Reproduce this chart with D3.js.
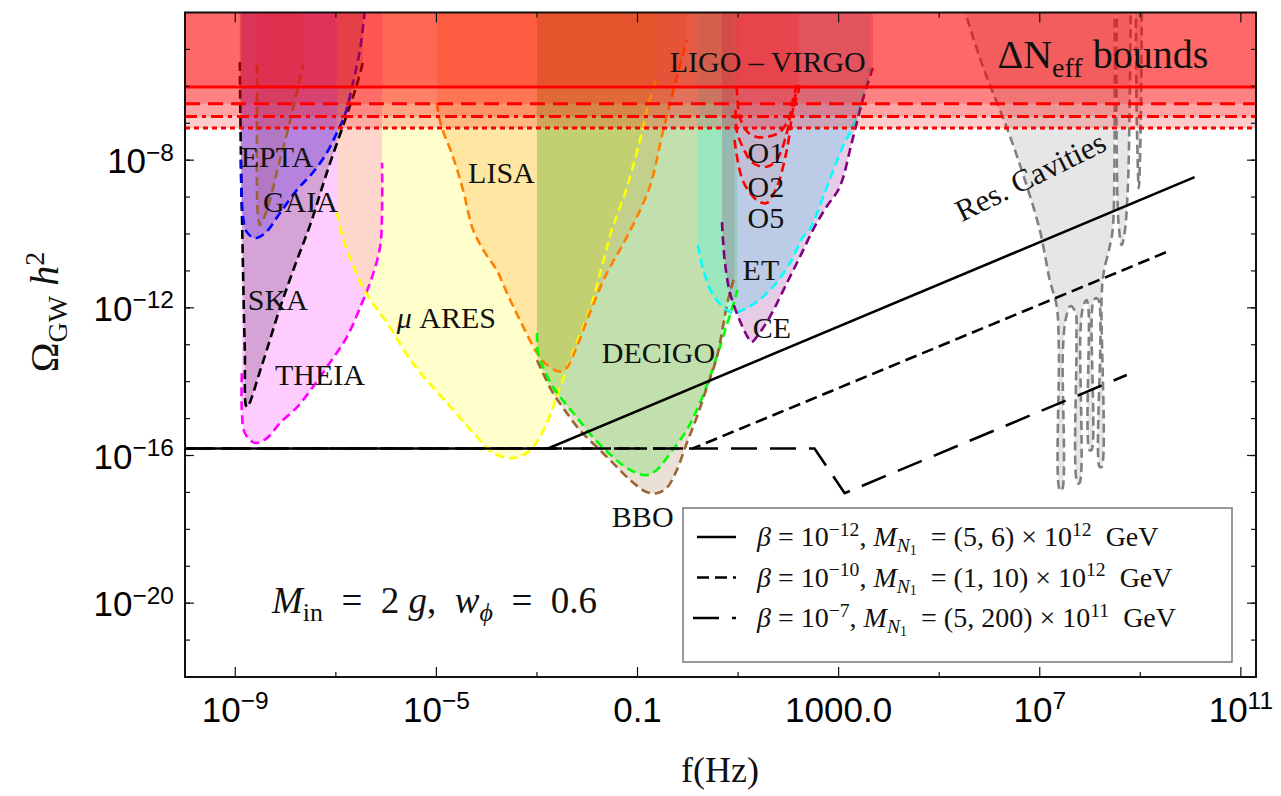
<!DOCTYPE html>
<html>
<head>
<meta charset="utf-8">
<script src="https://cdn.jsdelivr.net/npm/d3@7"></script>
<style>
  body { margin: 0; background: #fff; }
  svg text { font-family: "Liberation Serif", "Times New Roman", serif; white-space: pre; }
  .tick-label { font-family: "Liberation Sans", Arial, sans-serif; }
</style>
</head>
<body>
<svg id="chart" width="1281" height="796"></svg>
<script>
// ---------------------------------------------------------------
// Sensitivity curves: [log10 f/Hz, log10 Omega_GW h^2]
// ---------------------------------------------------------------
const ska = [[-8.91,-5.34],[-8.89,-7.72],[-8.85,-10.71],[-8.81,-13.15],[-8.77,-14.69],[-8.47,-13.55],[-8.11,-12.0],[-7.81,-10.84],[-7.51,-9.75],[-7.16,-8.26],[-6.78,-6.77],[-6.60,-6.04],[-6.46,-5.34]];
const epta = [[-8.89,-7.99],[-8.85,-9.49],[-8.77,-9.95],[-8.61,-10.11],[-8.41,-9.98],[-8.11,-9.43],[-7.77,-8.80],[-7.46,-8.34],[-7.18,-7.80],[-6.98,-7.26],[-6.82,-6.77],[-6.66,-5.91],[-6.52,-5.01],[-6.42,-3.9]];
const gaia = [[-8.57,-5.42],[-8.57,-7.26],[-8.57,-8.73],[-8.55,-9.48],[-8.51,-9.76],[-8.43,-9.57],[-8.31,-9.08],[-8.15,-8.19],[-7.97,-7.26],[-7.81,-6.37],[-7.65,-5.42]];
const theia = [[-8.87,-13.77],[-8.87,-14.77],[-8.81,-15.39],[-8.61,-15.66],[-8.37,-15.53],[-8.11,-15.12],[-7.77,-14.69],[-7.46,-14.15],[-7.12,-13.49],[-6.78,-12.79],[-6.48,-11.87],[-6.28,-11.17],[-6.12,-10.35],[-6.08,-9.35],[-6.08,-8.07]];
const muAres = [[-6.98,-9.41],[-6.86,-10.11],[-6.62,-10.98],[-6.38,-11.65],[-5.98,-12.41],[-5.47,-13.50],[-4.79,-14.58],[-4.19,-15.50],[-3.88,-15.93],[-3.48,-16.07],[-3.20,-15.93],[-2.94,-15.50],[-2.68,-14.69],[-2.49,-13.96],[-2.21,-12.95],[-1.95,-12.06],[-1.69,-10.79],[-1.51,-9.89],[-1.21,-8.73],[-0.95,-7.45],[-0.76,-6.37],[-0.60,-5.74]];
const lisa = [[-4.99,-6.45],[-4.91,-7.04],[-4.67,-7.91],[-4.47,-8.81],[-4.27,-9.89],[-4.04,-10.49],[-3.80,-10.98],[-3.58,-11.65],[-3.34,-12.33],[-3.00,-13.22],[-2.80,-13.55],[-2.54,-13.73],[-2.41,-13.63],[-2.21,-13.06],[-1.95,-12.14],[-1.61,-11.06],[-1.21,-10.08],[-0.76,-8.73],[-0.50,-7.26],[-0.30,-6.18],[-0.02,-4.74]];
const decigo = [[-3.00,-12.68],[-2.98,-13.22],[-2.88,-13.60],[-2.68,-14.15],[-2.49,-14.50],[-2.21,-14.96],[-1.89,-15.50],[-1.49,-16.04],[-1.15,-16.39],[-0.82,-16.53],[-0.62,-16.39],[-0.30,-15.85],[-0.02,-15.31],[0.24,-14.58],[0.44,-13.88],[0.70,-12.79],[0.87,-12.06],[0.99,-11.52]];
const bbo = [[-3.00,-13.42],[-2.88,-13.77],[-2.68,-14.31],[-2.49,-14.69],[-2.15,-15.31],[-1.81,-15.77],[-1.49,-16.20],[-1.15,-16.66],[-0.82,-16.99],[-0.62,-17.02],[-0.42,-16.88],[-0.22,-16.40],[-0.02,-15.66],[0.18,-14.96],[0.38,-14.15],[0.58,-13.33],[0.80,-11.79],[0.93,-11.17]];
const et = [[0.20,-10.30],[0.30,-10.92],[0.48,-11.60],[0.70,-11.98],[0.89,-12.14],[1.09,-12.06],[1.37,-11.84],[1.69,-11.44],[2.03,-10.79],[2.29,-10.08],[2.43,-9.86],[2.76,-8.75],[3.08,-7.64],[3.28,-7.10],[3.46,-6.37],[3.62,-5.50]];
const ce = [[0.68,-9.68],[0.70,-10.16],[0.74,-10.79],[0.84,-11.60],[1.03,-12.33],[1.19,-12.79],[1.27,-12.93],[1.37,-12.79],[1.63,-12.25],[1.97,-11.33],[2.23,-10.62],[2.49,-9.89],[2.74,-9.30],[3.02,-8.73],[3.26,-7.53],[3.48,-6.37],[3.68,-5.50]];
const ligoO1 = [[0.97,-6.00],[0.99,-6.37],[1.03,-6.83],[1.19,-7.24],[1.37,-7.37],[1.57,-7.37],[1.83,-7.24],[2.03,-6.83],[2.17,-6.29],[2.23,-5.96]];
const ligoO2 = [[0.95,-6.64],[0.97,-7.18],[1.09,-7.64],[1.29,-8.07],[1.57,-8.18],[1.77,-7.99],[1.97,-7.26],[2.09,-6.37],[2.17,-5.96]];
const ligoO5 = [[0.93,-7.45],[1.09,-8.54],[1.37,-9.08],[1.57,-9.16],[1.77,-8.73],[1.97,-7.72],[2.09,-6.64],[2.17,-6.02]];
const cavityMain = [[5.47,-3.79],[5.87,-5.47],[6.34,-7.10],[6.66,-8.35],[7.00,-9.89],[7.20,-11.25],[7.34,-11.98],[7.38,-13.15],[7.40,-16.94],[7.44,-16.94],[7.46,-13.15],[7.52,-12.28],[7.61,-11.95],[7.71,-12.12],[7.73,-12.88],[7.75,-16.75],[7.79,-16.75],[7.81,-12.61],[7.87,-11.93],[7.93,-11.79],[7.97,-12.06],[7.99,-15.85],[8.03,-15.85],[8.05,-11.93],[8.11,-11.74],[8.17,-11.79],[8.19,-16.31],[8.23,-16.31],[8.23,-11.71],[8.27,-11.06],[8.39,-10.35],[8.45,-9.89],[8.49,-7.26],[8.49,-3.79]];
const cavityNarrowA = [[8.53,-3.79],[8.53,-7.72],[8.57,-9.76],[8.63,-10.30],[8.69,-9.95],[8.75,-8.81],[8.79,-6.37],[8.81,-3.79]];
const cavityNarrowB = [[8.91,-3.79],[8.93,-6.91],[8.97,-8.76],[9.01,-6.91],[9.03,-3.79]];

// Delta N_eff upper bounds (log10 Omega h^2)
const neffBounds = [-6.02, -6.47, -6.82, -7.13];

// GW spectra from PBH-induced leptogenesis scenarios [log10 f, log10 Omega h^2]
const gwBeta12 = [[-10, -15.81], [-2.78, -15.81], [10.08, -8.46]];
const gwBeta10 = [[-10, -15.81], [0.10, -15.81], [9.52, -10.49]];
const gwBeta7  = [[-10, -15.81], [2.52, -15.81], [3.12, -17.02], [8.73, -13.82]];

// Axis ticks
const xMajor = [1e-9, 1e-5, 0.1, 1000, 1e7, 1e11];
const xMajorLabels = [["10", "−9"], ["10", "−5"], ["0.1", ""], ["1000.0", ""], ["10", "7"], ["10", "11"]];
const xMinor = [1e-7, 1e-3, 10, 1e5, 1e9];
const yMajor = [1e-8, 1e-12, 1e-16, 1e-20];
const yMajorLabels = [["10", "−8"], ["10", "−12"], ["10", "−16"], ["10", "−20"]];
const yMinor = d3.range(-22, -3).map(e => Math.pow(10, e));

// Curve labels, anchored at [log10 f, log10 Omega] (left end of baseline)
const curveLabels = ["EPTA", "GAIA", "SKA", "THEIA", "DECIGO", "BBO", "LISA", "LIGO – VIRGO", "O1", "O2", "O5", "ET", "CE"];
const curveLabelAnchors = [[-8.89,-8.18],[-8.45,-9.40],[-8.75,-12.06],[-8.21,-14.09],[-1.71,-13.49],[-1.51,-17.94],[-4.37,-8.62],[-0.36,-5.61],[1.19,-8.08],[1.19,-9.00],[1.19,-9.84],[1.09,-11.25],[1.29,-12.82]];
const aresAnchor = [-5.79, -12.55];
const neffAnchor = [6.16, -5.50];
const cavityAnchor = [5.45, -9.68];
const paramAnchor = [-8.27, -20.27];

// ---------------------------------------------------------------
const svg = d3.select("#chart");
const X0 = 185, X1 = 1256, YB = 677, YT = 12.5;
const x = d3.scaleLog().domain([1e-10, 2e11]).range([X0, X1]);
const y = d3.scaleLog().domain([1e-22, 1e-4]).range([YB, YT]);
const fx = d => x(Math.pow(10, d[0]));
const fy = d => y(Math.pow(10, d[1]));

svg.append("defs").append("clipPath").attr("id", "plotArea")
  .append("rect").attr("x", X0).attr("y", YT).attr("width", X1 - X0).attr("height", YB - YT);

const plot = svg.append("g").attr("clip-path", "url(#plotArea)");

const smooth = d3.curveCatmullRom.alpha(0.5);
const areaTop = d3.area().x(fx).y0(YT - 5).y1(fy).curve(smooth);
const curveLine = d3.line().x(fx).y(fy).curve(smooth);

const detectors = [
  { pts: ska, color: "#000000", shade: 0.2 },
  { pts: epta, color: "#0000ff", shade: 0.2 },
  { pts: gaia, color: "#996633", shade: 0.2 },
  { pts: theia, color: "#ff00ff", shade: 0.2 },
  { pts: muAres, color: "#ffff00", shade: 0.2 },
  { pts: lisa, color: "#ff8000", shade: 0.2 },
  { pts: decigo, color: "#00ff00", shade: 0.2 },
  { pts: bbo, color: "#996633", shade: 0.2 },
  { pts: et, color: "#00ffff", shade: 0.2 },
  { pts: ce, color: "#800080", shade: 0.2 },
  { pts: ligoO1, color: "#ff0000", shade: 0.06 },
  { pts: ligoO2, color: "#ff0000", shade: 0.06 },
  { pts: ligoO5, color: "#ff0000", shade: 0.06 },
  { pts: cavityMain, color: "#808080", shade: 0.2 },
  { pts: cavityNarrowA, color: "#808080", shade: 0.2 },
  { pts: cavityNarrowB, color: "#808080", shade: 0.2 }
];

// shaded reach of each experiment (from curve up to top)
plot.append("g").selectAll("path").data(detectors).join("path")
  .attr("d", d => areaTop(d.pts))
  .attr("fill", d => d.color)
  .attr("fill-opacity", d => d.shade);

// dashed sensitivity curves
plot.append("g").selectAll("path").data(detectors).join("path")
  .attr("d", d => curveLine(d.pts))
  .attr("fill", "none")
  .attr("stroke", d => d.color)
  .attr("stroke-width", 2.6)
  .attr("stroke-dasharray", "9,5");

// Delta N_eff bands and bound lines
const neffDash = [null, "15,8", "12,5,4,5", "5,4"];
plot.append("g").selectAll("rect").data(neffBounds).join("rect")
  .attr("x", X0).attr("width", X1 - X0)
  .attr("y", YT)
  .attr("height", d => y(Math.pow(10, d)) - YT)
  .attr("fill", "#ff0000").attr("fill-opacity", 0.2);
plot.append("g").selectAll("line").data(neffBounds).join("line")
  .attr("x1", X0).attr("x2", X1)
  .attr("y1", d => y(Math.pow(10, d))).attr("y2", d => y(Math.pow(10, d)))
  .attr("stroke", "#ff0000").attr("stroke-width", 3)
  .attr("stroke-dasharray", (d, i) => neffDash[i]);

// GW spectra
const straight = d3.line().x(fx).y(fy);
const gwSeries = [
  { pts: gwBeta12, dash: null },
  { pts: gwBeta10, dash: "12,6" },
  { pts: gwBeta7, dash: "26,13" }
];
plot.append("g").selectAll("path").data(gwSeries).join("path")
  .attr("d", d => straight(d.pts))
  .attr("fill", "none").attr("stroke", "#000").attr("stroke-width", 2.6)
  .attr("stroke-dasharray", d => d.dash);

// ---------------- rich text helper ----------------
function rich(sel, parts, size) {
  let shift = 0;
  parts.forEach(p => {
    let target = 0, fs = size;
    if (p.sup) { target = -0.36 * size; fs = 0.7 * size; }
    if (p.sub) { target = 0.22 * size; fs = 0.7 * size; }
    if (p.subsub) { target = 0.32 * size; fs = 0.5 * size; }
    const ts = sel.append("tspan").attr("dy", target - shift).attr("font-size", fs).text(p.t);
    if (p.i) ts.attr("font-style", "italic");
    shift = target;
  });
}

// ---------------- labels ----------------
const labelSize = 30;
curveLabels.forEach((t, i) => {
  svg.append("text").attr("x", fx(curveLabelAnchors[i])).attr("y", fy(curveLabelAnchors[i]))
    .attr("font-size", labelSize).attr("fill", "#111").text(t);
});
rich(svg.append("text").attr("x", fx(aresAnchor)).attr("y", fy(aresAnchor)).attr("fill", "#111"),
  [{ t: "μ", i: true }, { t: " ARES" }], labelSize);
rich(svg.append("text").attr("x", fx(neffAnchor)).attr("y", fy(neffAnchor)).attr("fill", "#111"),
  [{ t: "ΔN" }, { t: "eff", sub: true }, { t: " bounds" }], 40);
svg.append("text")
  .attr("transform", `translate(${fx(cavityAnchor)},${fy(cavityAnchor)}) rotate(-26.4)`)
  .attr("font-size", 31).attr("fill", "#111").text("Res. Cavities");
rich(svg.append("text").attr("x", fx(paramAnchor)).attr("y", fy(paramAnchor)).attr("fill", "#111"),
  [{ t: "M", i: true }, { t: "in", sub: true }, { t: "  =  2 " }, { t: "g", i: true }, { t: ",  " },
   { t: "w", i: true }, { t: "ϕ", sub: true, i: true }, { t: "  =  0.6" }], 37);

// ---------------- frame and ticks ----------------
const axes = svg.append("g").attr("stroke", "#111");
function vTicks(vals, len) {
  vals.forEach(v => {
    axes.append("line").attr("x1", x(v)).attr("x2", x(v)).attr("y1", YB).attr("y2", YB - len);
    axes.append("line").attr("x1", x(v)).attr("x2", x(v)).attr("y1", YT).attr("y2", YT + len);
  });
}
function hTicks(vals, len) {
  vals.forEach(v => {
    axes.append("line").attr("y1", y(v)).attr("y2", y(v)).attr("x1", X0).attr("x2", X0 + len);
    axes.append("line").attr("y1", y(v)).attr("y2", y(v)).attr("x1", X1).attr("x2", X1 - len);
  });
}
vTicks(xMajor, 10); vTicks(xMinor, 5);
hTicks(yMinor, 5); hTicks(yMajor, 9);
axes.attr("stroke-width", 1.2);
svg.append("rect").attr("x", X0).attr("y", YT).attr("width", X1 - X0).attr("height", YB - YT)
  .attr("fill", "none").attr("stroke", "#111").attr("stroke-width", 2);

const tickSize = 35;
xMajor.forEach((v, i) => {
  const t = svg.append("text").attr("class", "tick-label").attr("x", x(v)).attr("y", 722)
    .attr("text-anchor", "middle").attr("fill", "#000");
  const [b, e] = xMajorLabels[i];
  const parts = [{ t: b }];
  if (e) parts.push({ t: e, sup: true });
  rich(t, parts, tickSize);
});
yMajor.forEach((v, i) => {
  const t = svg.append("text").attr("class", "tick-label").attr("x", 174).attr("y", y(v) + 13)
    .attr("text-anchor", "end").attr("fill", "#000");
  const [b, e] = yMajorLabels[i];
  rich(t, [{ t: b }, { t: e, sup: true }], tickSize);
});

// axis titles
rich(svg.append("text").attr("x", 720).attr("y", 782).attr("text-anchor", "middle").attr("fill", "#111"),
  [{ t: "f(Hz)" }], 36);
rich(svg.append("text").attr("transform", "translate(58,312) rotate(-90)").attr("text-anchor", "middle").attr("fill", "#111"),
  [{ t: "Ω" }, { t: "GW", sub: true }, { t: " " }, { t: "h", i: true }, { t: "2", sup: true }], 40);

// ---------------- legend ----------------
const legendRows = [
  [{ t: "β", i: true }, { t: " = 10" }, { t: "−12", sup: true }, { t: ", " }, { t: "M", i: true }, { t: "N", sub: true, i: true }, { t: "1", subsub: true }, { t: "  = (5, 6) × 10" }, { t: "12", sup: true }, { t: "  GeV" }],
  [{ t: "β", i: true }, { t: " = 10" }, { t: "−10", sup: true }, { t: ", " }, { t: "M", i: true }, { t: "N", sub: true, i: true }, { t: "1", subsub: true }, { t: "  = (1, 10) × 10" }, { t: "12", sup: true }, { t: "  GeV" }],
  [{ t: "β", i: true }, { t: " = 10" }, { t: "−7", sup: true }, { t: ", " }, { t: "M", i: true }, { t: "N", sub: true, i: true }, { t: "1", subsub: true }, { t: "  = (5, 200) × 10" }, { t: "11", sup: true }, { t: "  GeV" }]
];
const legend = svg.append("g");
legend.append("rect").attr("x", 683).attr("y", 508).attr("width", 549).attr("height", 154)
  .attr("fill", "#fff").attr("stroke", "#777").attr("stroke-width", 1.5);
legendRows.forEach((parts, i) => {
  const cy = 537 + i * 40.5;
  legend.append("line").attr("x1", i === 2 ? 693 : 697).attr("x2", 736).attr("y1", cy).attr("y2", cy)
    .attr("stroke", "#000").attr("stroke-width", 2.6)
    .attr("stroke-dasharray", gwSeries[i].dash);
  rich(legend.append("text").attr("x", 757).attr("y", cy + 9).attr("fill", "#111"), parts, 28);
});
</script>
</body>
</html>
